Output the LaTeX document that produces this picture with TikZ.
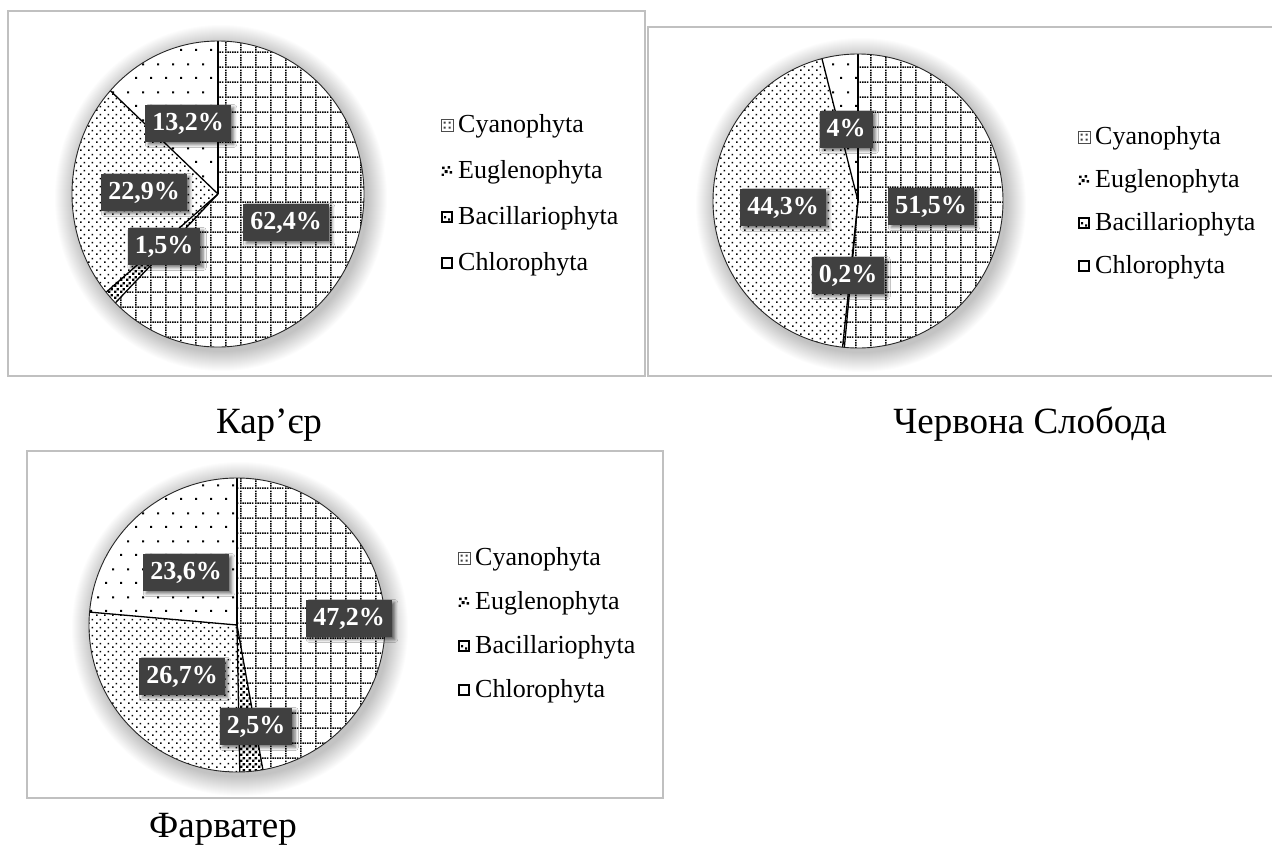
\documentclass[tikz,border=0pt]{standalone}
\usepackage{fontspec}
\setmainfont{Liberation Serif}
\usetikzlibrary{patterns,shadows.blur}

\definecolor{frameclr}{RGB}{192,192,192}
\definecolor{lblgray}{RGB}{64,64,64}

% Cyanophyta: dotted grid
\pgfdeclarepatternformonly{cyangrid}{\pgfpointorigin}{\pgfpoint{15pt}{15pt}}{\pgfpoint{15pt}{15pt}}{%
  \pgfpathrectangle{\pgfpoint{0pt}{0pt}}{\pgfpoint{1.6pt}{1.6pt}}%
  \pgfpathrectangle{\pgfpoint{2.5pt}{0pt}}{\pgfpoint{1.6pt}{1.6pt}}%
  \pgfpathrectangle{\pgfpoint{5pt}{0pt}}{\pgfpoint{1.6pt}{1.6pt}}%
  \pgfpathrectangle{\pgfpoint{7.5pt}{0pt}}{\pgfpoint{1.6pt}{1.6pt}}%
  \pgfpathrectangle{\pgfpoint{10pt}{0pt}}{\pgfpoint{1.6pt}{1.6pt}}%
  \pgfpathrectangle{\pgfpoint{12.5pt}{0pt}}{\pgfpoint{1.6pt}{1.6pt}}%
  \pgfpathrectangle{\pgfpoint{0pt}{2.5pt}}{\pgfpoint{1.6pt}{1.6pt}}%
  \pgfpathrectangle{\pgfpoint{0pt}{5pt}}{\pgfpoint{1.6pt}{1.6pt}}%
  \pgfpathrectangle{\pgfpoint{0pt}{7.5pt}}{\pgfpoint{1.6pt}{1.6pt}}%
  \pgfpathrectangle{\pgfpoint{0pt}{10pt}}{\pgfpoint{1.6pt}{1.6pt}}%
  \pgfpathrectangle{\pgfpoint{0pt}{12.5pt}}{\pgfpoint{1.6pt}{1.6pt}}%
  \pgfusepath{fill}}
% Euglenophyta: dense dark checker
\pgfdeclarepatternformonly{eugl}{\pgfpointorigin}{\pgfpoint{6pt}{6pt}}{\pgfpoint{6pt}{6pt}}{%
  \pgfpathrectangle{\pgfpoint{0pt}{0pt}}{\pgfpoint{2.7pt}{2.7pt}}%
  \pgfpathrectangle{\pgfpoint{3pt}{3pt}}{\pgfpoint{2.7pt}{2.7pt}}%
  \pgfusepath{fill}}
% Bacillariophyta: medium dots
\pgfdeclarepatternformonly{bacil}{\pgfpointorigin}{\pgfpoint{8pt}{8pt}}{\pgfpoint{8pt}{8pt}}{%
  \pgfpathrectangle{\pgfpoint{0pt}{0pt}}{\pgfpoint{1.8pt}{1.8pt}}%
  \pgfpathrectangle{\pgfpoint{4pt}{4pt}}{\pgfpoint{1.8pt}{1.8pt}}%
  \pgfusepath{fill}}
% Chlorophyta: sparse dots
\pgfdeclarepatternformonly{chloro}{\pgfpointorigin}{\pgfpoint{15pt}{28pt}}{\pgfpoint{15pt}{28pt}}{%
  \pgfpathrectangle{\pgfpoint{0pt}{0pt}}{\pgfpoint{2.2pt}{2.2pt}}%
  \pgfpathrectangle{\pgfpoint{7.5pt}{14pt}}{\pgfpoint{2.2pt}{2.2pt}}%
  \pgfusepath{fill}}

% slice: cx cy rx ry start end pattern
\newcommand\pieslice[7]{%
  \path[fill=white, postaction={pattern=#7}] (#1,#2) -- ++(#5:#3 and #4)
    arc[start angle=#5, end angle=#6, x radius=#3, y radius=#4] -- cycle;}

% soft glow round a pie: cx cy rx ry
\newcommand\pieglowdraw[4]{%
  \foreach \i in {0,...,19}
    \fill[black, opacity=0.012] (#1+3,#2+4) ellipse [x radius=#3+20-\i, y radius=#4+20-\i];}

% legend: marker-left x, first row centre y, row step, name prefix
\newcommand\algaelegend[4]{%
  \begin{scope}[shift={(#1,#2)}]
    \draw[line width=0.8pt, black!70, fill=white] (0,-6) rectangle (12,6);
    \fill[black!75] (2.5,-3.5) rectangle ++(2,2) (7.5,-3.5) rectangle ++(2,2)
                    (2.5,1.5) rectangle ++(2,2) (7.5,1.5) rectangle ++(2,2);
    \node[legtext] (#4c) at (17,7.5) {Cyanophyta};
    \begin{scope}[shift={(0,#3)}]
      \fill (1,-4.5) rectangle ++(2.6,2.6) (6.5,-5) rectangle ++(2.6,2.6)
            (3.5,-1) rectangle ++(3,3) (8.5,0) rectangle ++(2.6,2.6)
            (0.5,2.5) rectangle ++(2.4,2.4);
      \node[legtext] (#4e) at (17,7.5) {Euglenophyta};
    \end{scope}
    \begin{scope}[shift={(0,2*#3)}]
      \draw[line width=1.8pt, fill=white] (0.9,-5.1) rectangle (11.1,5.1);
      \fill (3,-0.8) rectangle ++(2.2,2.2) (7,1.4) rectangle ++(2.2,2.2);
      \node[legtext] (#4b) at (17,7.5) {Bacillariophyta};
    \end{scope}
    \begin{scope}[shift={(0,3*#3)}]
      \draw[line width=1.8pt, fill=white] (0.9,-5.1) rectangle (11.1,5.1);
      \node[legtext] (#4h) at (17,7.5) {Chlorophyta};
    \end{scope}
  \end{scope}}

\tikzset{
  frame/.style={draw=frameclr, line width=2.4pt},
  sliceline/.style={line width=1.3pt, black},
  pieedge/.style={line width=0.9pt, black!85},
  lbl/.style={fill=lblgray, text=white,
      font=\fontsize{26}{26}\selectfont\bfseries,
      inner xsep=7pt, inner ysep=0pt, text height=17pt, text depth=3pt,
      minimum height=37pt,
      blur shadow={shadow xshift=3pt, shadow yshift=-3pt,
      shadow blur radius=3pt, shadow opacity=55}},
  legtext/.style={anchor=base west, inner sep=0pt,
      font=\fontsize{26}{26}\selectfont},
  ttl/.style={anchor=base, inner sep=0pt, font=\fontsize{37}{37}\selectfont}
}

\begin{document}
\begin{tikzpicture}[x=1pt, y=-1pt]
\useasboundingbox (0,0) rectangle (1272,863);
\clip (0,0) rectangle (1272,863);
\fill[white] (0,0) rectangle (1272,863);

% frames
\draw[frame] (8,11) rectangle (645,376);
\draw[frame] (648,27) rectangle (1290,376);
\draw[frame] (27,451) rectangle (663,798);

% ---------- Pie 1: Кар'єр ----------
\pieglowdraw{218}{194}{146}{153}
\pieslice{218}{194}{146}{153}{-90}{134.64}{cyangrid}
\pieslice{218}{194}{146}{153}{134.64}{140.04}{eugl}
\pieslice{218}{194}{146}{153}{140.04}{222.48}{bacil}
\pieslice{218}{194}{146}{153}{222.48}{270}{chloro}
\foreach \a in {-90,134.64,140.04,222.48}
  \draw[sliceline] (218,194) -- ++(\a:146 and 153);
\draw[pieedge] (218,194) ellipse [x radius=146, y radius=153];

\node[lbl] (k1) at (188,123) {13,2\%};
\node[lbl] (k2) at (144,192) {22,9\%};
\node[lbl] (k3) at (164,246) {1,5\%};
\node[lbl] (k4) at (286,222) {62,4\%};
\algaelegend{441}{125}{46}{la}

% ---------- Pie 2: Червона Слобода ----------
\pieglowdraw{858}{201}{145}{147}
\pieslice{858}{201}{145}{147}{-90}{95.4}{cyangrid}
\pieslice{858}{201}{145}{147}{95.4}{96.12}{eugl}
\pieslice{858}{201}{145}{147}{96.12}{255.6}{bacil}
\pieslice{858}{201}{145}{147}{255.6}{270}{chloro}
\foreach \a in {-90,95.4,96.12,255.6}
  \draw[sliceline] (858,201) -- ++(\a:145 and 147);
\draw[pieedge] (858,201) ellipse [x radius=145, y radius=147];

\node[lbl] (s1) at (846,129) {4\%};
\node[lbl] (s2) at (783,207) {44,3\%};
\node[lbl] (s3) at (931,206) {51,5\%};
\node[lbl] (s4) at (848,275) {0,2\%};
\algaelegend{1078}{137}{43}{lb}

% ---------- Pie 3: Фарватер ----------
\pieglowdraw{237}{625}{148}{147}
\pieslice{237}{625}{148}{147}{-90}{79.92}{cyangrid}
\pieslice{237}{625}{148}{147}{79.92}{88.92}{eugl}
\pieslice{237}{625}{148}{147}{88.92}{185.04}{bacil}
\pieslice{237}{625}{148}{147}{185.04}{270}{chloro}
\foreach \a in {-90,79.92,88.92,185.04}
  \draw[sliceline] (237,625) -- ++(\a:148 and 147);
\draw[pieedge] (237,625) ellipse [x radius=148, y radius=147];

\node[lbl] (f1) at (186,572) {23,6\%};
\node[lbl] (f2) at (349,618) {47,2\%};
\node[lbl] (f3) at (182,676) {26,7\%};
\node[lbl] (f4) at (256,726) {2,5\%};
\algaelegend{458}{558}{44}{lc}

% titles
\node[ttl] (t1) at (269,433) {Кар’єр};
\node[ttl] (t2) at (1030,433) {Червона Слобода};
\node[ttl] (t3) at (223,837) {Фарватер};
\end{tikzpicture}
\end{document}
